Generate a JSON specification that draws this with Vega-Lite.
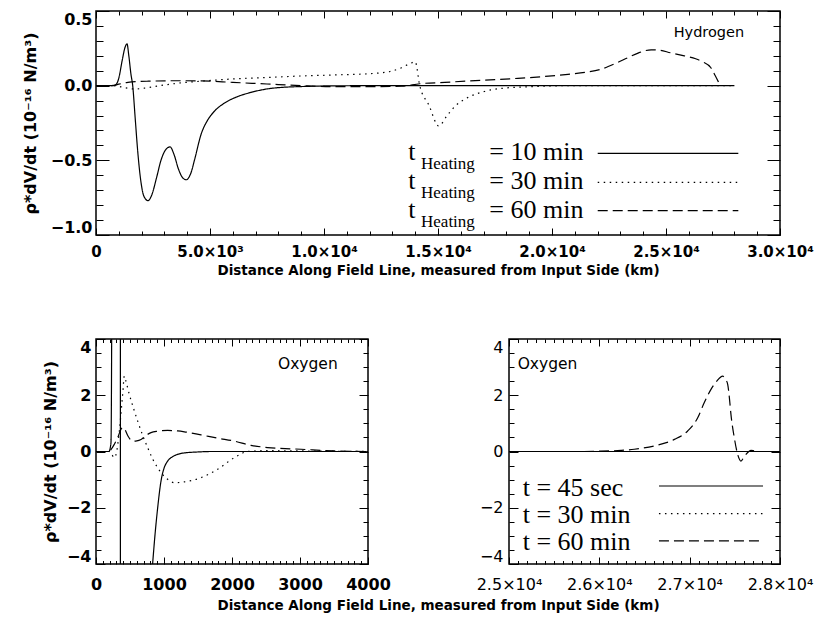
{
  "$schema": "https://vega.github.io/schema/vega-lite/v6.json",
  "autosize": {"type": "pad"},
  "padding": {"left": 21, "top": 9, "right": 0, "bottom": 0},
  "background": "white",
  "bounds": "flush",
  "spacing": 104,
  "resolve": {"scale": {"strokeDash": "independent"}},
  "config": {
    "view": {"stroke": "black", "strokeWidth": 1.5},
    "axis": {"domain": false, "grid": false, "labelColor": "black", "titleColor": "black", "tickColor": "black", "tickWidth": 1, "labelFlush": false, "labelOverlap": false, "labelBound": false, "labelFont": "DejaVu Sans", "titleFont": "DejaVu Sans"}
  },
  "datasets": {
    "hydrogen": [
      {"series": "10 min", "x": 0, "y": 0}, {"series": "10 min", "x": 600, "y": 0}, {"series": "10 min", "x": 850, "y": 0.005}, {"series": "10 min", "x": 1000, "y": 0.05}, {"series": "10 min", "x": 1150, "y": 0.17}, {"series": "10 min", "x": 1280, "y": 0.26}, {"series": "10 min", "x": 1360, "y": 0.28}, {"series": "10 min", "x": 1440, "y": 0.2}, {"series": "10 min", "x": 1530, "y": 0.08}, {"series": "10 min", "x": 1610, "y": 0}, {"series": "10 min", "x": 1720, "y": -0.22}, {"series": "10 min", "x": 1830, "y": -0.44}, {"series": "10 min", "x": 1950, "y": -0.62}, {"series": "10 min", "x": 2100, "y": -0.74}, {"series": "10 min", "x": 2280, "y": -0.77}, {"series": "10 min", "x": 2450, "y": -0.73}, {"series": "10 min", "x": 2650, "y": -0.62}, {"series": "10 min", "x": 2850, "y": -0.5}, {"series": "10 min", "x": 3050, "y": -0.43}, {"series": "10 min", "x": 3250, "y": -0.41}, {"series": "10 min", "x": 3420, "y": -0.46}, {"series": "10 min", "x": 3620, "y": -0.56}, {"series": "10 min", "x": 3820, "y": -0.62}, {"series": "10 min", "x": 3960, "y": -0.63}, {"series": "10 min", "x": 4150, "y": -0.59}, {"series": "10 min", "x": 4350, "y": -0.48}, {"series": "10 min", "x": 4600, "y": -0.33}, {"series": "10 min", "x": 4900, "y": -0.23}, {"series": "10 min", "x": 5200, "y": -0.17}, {"series": "10 min", "x": 5600, "y": -0.12}, {"series": "10 min", "x": 6100, "y": -0.08}, {"series": "10 min", "x": 6800, "y": -0.045}, {"series": "10 min", "x": 7500, "y": -0.022}, {"series": "10 min", "x": 8300, "y": -0.01}, {"series": "10 min", "x": 9000, "y": -0.006}, {"series": "10 min", "x": 10000, "y": -0.002}, {"series": "10 min", "x": 12000, "y": 0}, {"series": "10 min", "x": 20000, "y": 0}, {"series": "10 min", "x": 28000, "y": 0},
      {"series": "30 min", "x": 0, "y": 0}, {"series": "30 min", "x": 700, "y": 0}, {"series": "30 min", "x": 1000, "y": -0.005}, {"series": "30 min", "x": 1300, "y": -0.015}, {"series": "30 min", "x": 1700, "y": -0.022}, {"series": "30 min", "x": 2200, "y": -0.015}, {"series": "30 min", "x": 2800, "y": 0}, {"series": "30 min", "x": 3500, "y": 0.015}, {"series": "30 min", "x": 4600, "y": 0.03}, {"series": "30 min", "x": 6000, "y": 0.045}, {"series": "30 min", "x": 7500, "y": 0.055}, {"series": "30 min", "x": 9000, "y": 0.065}, {"series": "30 min", "x": 10500, "y": 0.072}, {"series": "30 min", "x": 12000, "y": 0.08}, {"series": "30 min", "x": 12900, "y": 0.095}, {"series": "30 min", "x": 13400, "y": 0.12}, {"series": "30 min", "x": 13800, "y": 0.15}, {"series": "30 min", "x": 14000, "y": 0.16}, {"series": "30 min", "x": 14200, "y": 0}, {"series": "30 min", "x": 14600, "y": -0.13}, {"series": "30 min", "x": 15030, "y": -0.27}, {"series": "30 min", "x": 15400, "y": -0.2}, {"series": "30 min", "x": 15800, "y": -0.13}, {"series": "30 min", "x": 16300, "y": -0.08}, {"series": "30 min", "x": 17000, "y": -0.04}, {"series": "30 min", "x": 17800, "y": -0.018}, {"series": "30 min", "x": 19200, "y": -0.006}, {"series": "30 min", "x": 21000, "y": 0}, {"series": "30 min", "x": 28000, "y": 0},
      {"series": "60 min", "x": 0, "y": 0}, {"series": "60 min", "x": 700, "y": 0}, {"series": "60 min", "x": 1000, "y": 0.01}, {"series": "60 min", "x": 1400, "y": 0.022}, {"series": "60 min", "x": 2300, "y": 0.03}, {"series": "60 min", "x": 3500, "y": 0.033}, {"series": "60 min", "x": 4600, "y": 0.032}, {"series": "60 min", "x": 6000, "y": 0.022}, {"series": "60 min", "x": 7500, "y": 0.011}, {"series": "60 min", "x": 9000, "y": 0}, {"series": "60 min", "x": 10500, "y": -0.007}, {"series": "60 min", "x": 12000, "y": -0.007}, {"series": "60 min", "x": 13400, "y": -0.004}, {"series": "60 min", "x": 14200, "y": 0.013}, {"series": "60 min", "x": 15300, "y": 0.022}, {"series": "60 min", "x": 16300, "y": 0.031}, {"series": "60 min", "x": 17500, "y": 0.04}, {"series": "60 min", "x": 18500, "y": 0.049}, {"series": "60 min", "x": 19700, "y": 0.062}, {"series": "60 min", "x": 20700, "y": 0.076}, {"series": "60 min", "x": 21500, "y": 0.09}, {"series": "60 min", "x": 22150, "y": 0.11}, {"series": "60 min", "x": 22800, "y": 0.15}, {"series": "60 min", "x": 23320, "y": 0.187}, {"series": "60 min", "x": 23800, "y": 0.22}, {"series": "60 min", "x": 24350, "y": 0.24}, {"series": "60 min", "x": 24700, "y": 0.238}, {"series": "60 min", "x": 25200, "y": 0.22}, {"series": "60 min", "x": 25800, "y": 0.2}, {"series": "60 min", "x": 26300, "y": 0.18}, {"series": "60 min", "x": 26600, "y": 0.16}, {"series": "60 min", "x": 26970, "y": 0.12}, {"series": "60 min", "x": 27150, "y": 0.07}, {"series": "60 min", "x": 27300, "y": 0.025}
    ],
    "oxygenNear": [
      {"series": "45 sec", "x": 0, "y": 0}, {"series": "45 sec", "x": 190, "y": 0}, {"series": "45 sec", "x": 220, "y": 0.3}, {"series": "45 sec", "x": 231, "y": 4.5}, {"series": "45 sec", "x": 240, "y": 20}, {"series": "45 sec", "x": 300, "y": 40}, {"series": "45 sec", "x": 357, "y": 40}, {"series": "45 sec", "x": 360, "y": -40}, {"series": "45 sec", "x": 500, "y": -30}, {"series": "45 sec", "x": 700, "y": -10}, {"series": "45 sec", "x": 800, "y": -5}, {"series": "45 sec", "x": 834, "y": -3.95}, {"series": "45 sec", "x": 870, "y": -2.9}, {"series": "45 sec", "x": 907, "y": -2.0}, {"series": "45 sec", "x": 956, "y": -1.05}, {"series": "45 sec", "x": 1000, "y": -0.6}, {"series": "45 sec", "x": 1054, "y": -0.34}, {"series": "45 sec", "x": 1130, "y": -0.18}, {"series": "45 sec", "x": 1201, "y": -0.1}, {"series": "45 sec", "x": 1300, "y": -0.05}, {"series": "45 sec", "x": 1470, "y": -0.02}, {"series": "45 sec", "x": 1700, "y": 0}, {"series": "45 sec", "x": 4000, "y": 0},
      {"series": "30 min", "x": 0, "y": 0}, {"series": "30 min", "x": 190, "y": 0}, {"series": "30 min", "x": 230, "y": -0.1}, {"series": "30 min", "x": 270, "y": -0.22}, {"series": "30 min", "x": 300, "y": -0.05}, {"series": "30 min", "x": 343, "y": 0.73}, {"series": "30 min", "x": 392, "y": 2.03}, {"series": "30 min", "x": 417, "y": 2.68}, {"series": "30 min", "x": 440, "y": 2.5}, {"series": "30 min", "x": 490, "y": 2.03}, {"series": "30 min", "x": 550, "y": 1.55}, {"series": "30 min", "x": 613, "y": 1.08}, {"series": "30 min", "x": 690, "y": 0.55}, {"series": "30 min", "x": 760, "y": 0.14}, {"series": "30 min", "x": 830, "y": -0.25}, {"series": "30 min", "x": 907, "y": -0.58}, {"series": "30 min", "x": 980, "y": -0.82}, {"series": "30 min", "x": 1054, "y": -0.99}, {"series": "30 min", "x": 1152, "y": -1.11}, {"series": "30 min", "x": 1300, "y": -1.08}, {"series": "30 min", "x": 1544, "y": -0.93}, {"series": "30 min", "x": 1789, "y": -0.63}, {"series": "30 min", "x": 2034, "y": -0.22}, {"series": "30 min", "x": 2230, "y": 0}, {"series": "30 min", "x": 2500, "y": 0.03}, {"series": "30 min", "x": 3000, "y": 0.02}, {"series": "30 min", "x": 3500, "y": 0.01}, {"series": "30 min", "x": 4000, "y": 0},
      {"series": "60 min", "x": 0, "y": 0}, {"series": "60 min", "x": 190, "y": 0}, {"series": "60 min", "x": 230, "y": 0.1}, {"series": "60 min", "x": 270, "y": 0.26}, {"series": "60 min", "x": 320, "y": 0.5}, {"series": "60 min", "x": 370, "y": 0.8}, {"series": "60 min", "x": 392, "y": 0.85}, {"series": "60 min", "x": 420, "y": 0.8}, {"series": "60 min", "x": 470, "y": 0.55}, {"series": "60 min", "x": 539, "y": 0.37}, {"series": "60 min", "x": 600, "y": 0.38}, {"series": "60 min", "x": 662, "y": 0.43}, {"series": "60 min", "x": 740, "y": 0.58}, {"series": "60 min", "x": 809, "y": 0.67}, {"series": "60 min", "x": 900, "y": 0.72}, {"series": "60 min", "x": 1054, "y": 0.75}, {"series": "60 min", "x": 1200, "y": 0.73}, {"series": "60 min", "x": 1299, "y": 0.7}, {"series": "60 min", "x": 1544, "y": 0.59}, {"series": "60 min", "x": 1800, "y": 0.47}, {"series": "60 min", "x": 2034, "y": 0.37}, {"series": "60 min", "x": 2279, "y": 0.22}, {"series": "60 min", "x": 2524, "y": 0.14}, {"series": "60 min", "x": 3015, "y": 0.08}, {"series": "60 min", "x": 3500, "y": 0.02}, {"series": "60 min", "x": 4000, "y": 0}
    ],
    "oxygenFar": [
      {"series": "45 sec", "x": 25000, "y": 0}, {"series": "45 sec", "x": 28000, "y": 0},
      {"series": "30 min", "x": 25000, "y": 0}, {"series": "30 min", "x": 28000, "y": 0},
      {"series": "60 min", "x": 25000, "y": 0}, {"series": "60 min", "x": 25800, "y": 0}, {"series": "60 min", "x": 26000, "y": 0.01}, {"series": "60 min", "x": 26240, "y": 0.04}, {"series": "60 min", "x": 26387, "y": 0.08}, {"series": "60 min", "x": 26609, "y": 0.2}, {"series": "60 min", "x": 26830, "y": 0.43}, {"series": "60 min", "x": 26978, "y": 0.73}, {"series": "60 min", "x": 27089, "y": 1.2}, {"series": "60 min", "x": 27162, "y": 1.74}, {"series": "60 min", "x": 27236, "y": 2.21}, {"series": "60 min", "x": 27300, "y": 2.5}, {"series": "60 min", "x": 27365, "y": 2.68}, {"series": "60 min", "x": 27400, "y": 2.55}, {"series": "60 min", "x": 27421, "y": 2.39}, {"series": "60 min", "x": 27440, "y": 1.9}, {"series": "60 min", "x": 27457, "y": 1.32}, {"series": "60 min", "x": 27494, "y": 0.49}, {"series": "60 min", "x": 27531, "y": -0.1}, {"series": "60 min", "x": 27568, "y": -0.34}, {"series": "60 min", "x": 27600, "y": -0.2}, {"series": "60 min", "x": 27624, "y": -0.1}, {"series": "60 min", "x": 27679, "y": 0.04}, {"series": "60 min", "x": 27716, "y": 0.02}, {"series": "60 min", "x": 27760, "y": 0}, {"series": "60 min", "x": 28000, "y": 0}
    ],
    "hLegend": [
      {"series": "10 min", "label": "= 10 min", "y": -0.453},
      {"series": "30 min", "label": "= 30 min", "y": -0.647},
      {"series": "60 min", "label": "= 60 min", "y": -0.837}
    ],
    "oLegend": [
      {"series": "45 sec", "label": "t = 45 sec", "y": -1.227},
      {"series": "30 min", "label": "t = 30 min", "y": -2.21},
      {"series": "60 min", "label": "t = 60 min", "y": -3.18}
    ]
  },
  "vconcat": [
    {
      "width": 684, "height": 224,
      "data": {"name": "hydrogen"},
      "resolve": {"axis": {"x": "independent", "y": "independent"}},
      "layer": [
        {
          "mark": {"type": "line", "interpolate": "monotone", "strokeWidth": 1.2, "color": "black", "clip": true},
          "encoding": {
            "x": {"field": "x", "type": "quantitative", "scale": {"domain": [0, 30000], "nice": false, "zero": false},
              "axis": {"orient": "bottom", "values": [0, 5000, 10000, 15000, 20000, 25000, 30000], "ticks": false, "labelExpr": "datum.value == 0 ? '0' : datum.value < 10000 ? format(datum.value/1000, '.1f') + '×10³' : format(datum.value/10000, '.1f') + '×10⁴'", "labelFontSize": 15, "labelFontWeight": "bold", "labelPadding": 9, "title": "Distance Along Field Line, measured from Input Side (km)", "titleFontSize": 13.5, "titleFontWeight": "bold", "titlePadding": 4}},
            "y": {"field": "y", "type": "quantitative", "scale": {"domain": [-1, 0.5], "nice": false, "zero": false},
              "axis": {"orient": "left", "values": [-1, -0.5, 0, 0.5], "ticks": false, "format": ".1f", "labelFontSize": 16, "labelFontWeight": "bold", "labelPadding": 4, "labelFlush": true, "title": "ρ*dV/dt (10⁻¹⁶ N/m³)", "titleFontSize": 16, "titleFontWeight": "bold", "titlePadding": 12}},
            "strokeDash": {"field": "series", "type": "nominal", "scale": {"domain": ["10 min", "30 min", "60 min"], "range": [[1, 0], [1.5, 4.5], [10, 5]]}, "legend": null}
          }
        },
        {
          "data": {"values": [{}]},
          "mark": {"type": "point", "opacity": 0},
          "encoding": {
            "x": {"datum": 0, "type": "quantitative", "scale": {"domain": [0, 30000], "nice": false, "zero": false}, "axis": {"orient": "bottom", "values": [0, 5000, 10000, 15000, 20000, 25000, 30000], "labels": false, "title": null, "tickSize": -7}},
            "y": {"datum": 0, "type": "quantitative", "scale": {"domain": [-1, 0.5], "nice": false, "zero": false}, "axis": {"orient": "left", "values": [-1, -0.5, 0, 0.5], "labels": false, "title": null, "tickSize": -13}}
          }
        },
        {
          "data": {"values": [{}]},
          "mark": {"type": "point", "opacity": 0},
          "encoding": {
            "x": {"datum": 0, "type": "quantitative", "scale": {"domain": [0, 30000], "nice": false, "zero": false}, "axis": {"orient": "bottom", "values": [1000, 2000, 3000, 4000, 6000, 7000, 8000, 9000, 11000, 12000, 13000, 14000, 16000, 17000, 18000, 19000, 21000, 22000, 23000, 24000, 26000, 27000, 28000, 29000], "labels": false, "title": null, "tickSize": -4}},
            "y": {"datum": 0, "type": "quantitative", "scale": {"domain": [-1, 0.5], "nice": false, "zero": false}, "axis": {"orient": "left", "values": [-0.9, -0.8, -0.7, -0.6, -0.4, -0.3, -0.2, -0.1, 0.1, 0.2, 0.3, 0.4], "labels": false, "title": null, "tickSize": -7}}
          }
        },
        {
          "data": {"values": [{}]},
          "mark": {"type": "point", "opacity": 0},
          "encoding": {
            "x": {"datum": 0, "type": "quantitative", "scale": {"domain": [0, 30000], "nice": false, "zero": false}, "axis": {"orient": "top", "values": [0, 5000, 10000, 15000, 20000, 25000, 30000], "labels": false, "title": null, "tickSize": -7}},
            "y": {"datum": 0, "type": "quantitative", "scale": {"domain": [-1, 0.5], "nice": false, "zero": false}, "axis": {"orient": "right", "values": [-1, -0.5, 0, 0.5], "labels": false, "title": null, "tickSize": -13}}
          }
        },
        {
          "data": {"values": [{}]},
          "mark": {"type": "point", "opacity": 0},
          "encoding": {
            "x": {"datum": 0, "type": "quantitative", "scale": {"domain": [0, 30000], "nice": false, "zero": false}, "axis": {"orient": "top", "values": [1000, 2000, 3000, 4000, 6000, 7000, 8000, 9000, 11000, 12000, 13000, 14000, 16000, 17000, 18000, 19000, 21000, 22000, 23000, 24000, 26000, 27000, 28000, 29000], "labels": false, "title": null, "tickSize": -4}},
            "y": {"datum": 0, "type": "quantitative", "scale": {"domain": [-1, 0.5], "nice": false, "zero": false}, "axis": {"orient": "right", "values": [-0.9, -0.8, -0.7, -0.6, -0.4, -0.3, -0.2, -0.1, 0.1, 0.2, 0.3, 0.4], "labels": false, "title": null, "tickSize": -7}}
          }
        },
        {
          "data": {"values": [{}]},
          "mark": {"type": "text", "text": "Hydrogen", "font": "DejaVu Sans", "fontSize": 14.5, "align": "left", "baseline": "alphabetic", "color": "black"},
          "encoding": {
            "x": {"datum": 25336, "type": "quantitative", "scale": {"domain": [0, 30000], "nice": false, "zero": false}, "axis": null},
            "y": {"datum": 0.326, "type": "quantitative", "scale": {"domain": [-1, 0.5], "nice": false, "zero": false}, "axis": null}
          }
        },
        {
          "data": {"name": "hLegend"},
          "mark": {"type": "text", "text": "t", "font": "Liberation Serif", "fontSize": 26, "align": "left", "baseline": "alphabetic", "dy": 7, "color": "black"},
          "encoding": {
            "x": {"datum": 13697, "type": "quantitative", "scale": {"domain": [0, 30000], "nice": false, "zero": false}, "axis": null},
            "y": {"field": "y", "type": "quantitative", "scale": {"domain": [-1, 0.5], "nice": false, "zero": false}, "axis": null}
          }
        },
        {
          "data": {"name": "hLegend"},
          "mark": {"type": "text", "text": "Heating", "font": "Liberation Serif", "fontSize": 17, "align": "left", "baseline": "alphabetic", "dy": 16, "color": "black"},
          "encoding": {
            "x": {"datum": 14255, "type": "quantitative", "scale": {"domain": [0, 30000], "nice": false, "zero": false}, "axis": null},
            "y": {"field": "y", "type": "quantitative", "scale": {"domain": [-1, 0.5], "nice": false, "zero": false}, "axis": null}
          }
        },
        {
          "data": {"name": "hLegend"},
          "mark": {"type": "text", "font": "Liberation Serif", "fontSize": 26, "align": "left", "baseline": "alphabetic", "dy": 7, "color": "black"},
          "encoding": {
            "x": {"datum": 17250, "type": "quantitative", "scale": {"domain": [0, 30000], "nice": false, "zero": false}, "axis": null},
            "y": {"field": "y", "type": "quantitative", "scale": {"domain": [-1, 0.5], "nice": false, "zero": false}, "axis": null},
            "text": {"field": "label"}
          }
        },
        {
          "data": {"name": "hLegend"},
          "mark": {"type": "rule", "strokeWidth": 1.2, "color": "black"},
          "encoding": {
            "x": {"datum": 22005, "type": "quantitative", "scale": {"domain": [0, 30000], "nice": false, "zero": false}, "axis": null},
            "x2": {"datum": 28172},
            "y": {"field": "y", "type": "quantitative", "scale": {"domain": [-1, 0.5], "nice": false, "zero": false}, "axis": null},
            "strokeDash": {"field": "series", "type": "nominal", "scale": {"domain": ["10 min", "30 min", "60 min"], "range": [[1, 0], [1.5, 4.5], [8, 5]]}, "legend": null}
          }
        }
      ]
    },
    {
      "bounds": "flush",
      "spacing": 141,
      "resolve": {"scale": {"strokeDash": "independent"}},
      "hconcat": [
        {
          "width": 272, "height": 225,
          "data": {"name": "oxygenNear"},
          "resolve": {"axis": {"x": "independent", "y": "independent"}},
          "layer": [
            {
              "mark": {"type": "line", "interpolate": "monotone", "strokeWidth": 1.2, "color": "black", "clip": true},
              "encoding": {
                "x": {"field": "x", "type": "quantitative", "scale": {"domain": [0, 4000], "nice": false, "zero": false},
                  "axis": {"orient": "bottom", "values": [0, 1000, 2000, 3000, 4000], "ticks": false, "format": "d", "labelFontSize": 16, "labelFontWeight": "bold", "labelPadding": 12, "title": "Distance Along Field Line, measured from Input Side (km)", "titleFontSize": 13.5, "titleFontWeight": "bold", "titlePadding": 6, "titleX": 342, "titleAlign": "center", "titleAnchor": null}},
                "y": {"field": "y", "type": "quantitative", "scale": {"domain": [-4, 4], "nice": false, "zero": false},
                  "axis": {"orient": "left", "values": [-4, -2, 0, 2, 4], "ticks": false, "format": "d", "labelFontSize": 16, "labelFontWeight": "bold", "labelPadding": 5, "labelFlush": true, "title": "ρ*dV/dt (10⁻¹⁶ N/m³)", "titleFontSize": 16, "titleFontWeight": "bold", "titlePadding": 8}},
                "strokeDash": {"field": "series", "type": "nominal", "scale": {"domain": ["45 sec", "30 min", "60 min"], "range": [[1, 0], [1.5, 4.5], [10, 5]]}, "legend": null}
              }
            },
            {
              "data": {"values": [{}]},
              "mark": {"type": "point", "opacity": 0},
              "encoding": {
                "x": {"datum": 0, "type": "quantitative", "scale": {"domain": [0, 4000], "nice": false, "zero": false}, "axis": {"orient": "bottom", "values": [0, 1000, 2000, 3000, 4000], "labels": false, "title": null, "tickSize": -7}},
                "y": {"datum": 0, "type": "quantitative", "scale": {"domain": [-4, 4], "nice": false, "zero": false}, "axis": {"orient": "left", "values": [-4, -2, 0, 2, 4], "labels": false, "title": null, "tickSize": -9}}
              }
            },
            {
              "data": {"values": [{}]},
              "mark": {"type": "point", "opacity": 0},
              "encoding": {
                "x": {"datum": 0, "type": "quantitative", "scale": {"domain": [0, 4000], "nice": false, "zero": false}, "axis": {"orient": "bottom", "values": [100, 200, 300, 400, 500, 600, 700, 800, 900, 1100, 1200, 1300, 1400, 1500, 1600, 1700, 1800, 1900, 2100, 2200, 2300, 2400, 2500, 2600, 2700, 2800, 2900, 3100, 3200, 3300, 3400, 3500, 3600, 3700, 3800, 3900], "labels": false, "title": null, "tickSize": -3.5}},
                "y": {"datum": 0, "type": "quantitative", "scale": {"domain": [-4, 4], "nice": false, "zero": false}, "axis": {"orient": "left", "values": [-3.5, -3, -2.5, -1.5, -1, -0.5, 0.5, 1, 1.5, 2.5, 3, 3.5], "labels": false, "title": null, "tickSize": -5}}
              }
            },
            {
              "data": {"values": [{}]},
              "mark": {"type": "point", "opacity": 0},
              "encoding": {
                "x": {"datum": 0, "type": "quantitative", "scale": {"domain": [0, 4000], "nice": false, "zero": false}, "axis": {"orient": "top", "values": [0, 1000, 2000, 3000, 4000], "labels": false, "title": null, "tickSize": -7}},
                "y": {"datum": 0, "type": "quantitative", "scale": {"domain": [-4, 4], "nice": false, "zero": false}, "axis": {"orient": "right", "values": [-4, -2, 0, 2, 4], "labels": false, "title": null, "tickSize": -9}}
              }
            },
            {
              "data": {"values": [{}]},
              "mark": {"type": "point", "opacity": 0},
              "encoding": {
                "x": {"datum": 0, "type": "quantitative", "scale": {"domain": [0, 4000], "nice": false, "zero": false}, "axis": {"orient": "top", "values": [100, 200, 300, 400, 500, 600, 700, 800, 900, 1100, 1200, 1300, 1400, 1500, 1600, 1700, 1800, 1900, 2100, 2200, 2300, 2400, 2500, 2600, 2700, 2800, 2900, 3100, 3200, 3300, 3400, 3500, 3600, 3700, 3800, 3900], "labels": false, "title": null, "tickSize": -3.5}},
                "y": {"datum": 0, "type": "quantitative", "scale": {"domain": [-4, 4], "nice": false, "zero": false}, "axis": {"orient": "right", "values": [-3.5, -3, -2.5, -1.5, -1, -0.5, 0.5, 1, 1.5, 2.5, 3, 3.5], "labels": false, "title": null, "tickSize": -5}}
              }
            },
            {
              "data": {"values": [{}]},
              "mark": {"type": "text", "text": "Oxygen", "font": "DejaVu Sans", "fontSize": 15.5, "align": "left", "baseline": "alphabetic", "color": "black"},
              "encoding": {
                "x": {"datum": 2676, "type": "quantitative", "scale": {"domain": [0, 4000], "nice": false, "zero": false}, "axis": null},
                "y": {"datum": 2.92, "type": "quantitative", "scale": {"domain": [-4, 4], "nice": false, "zero": false}, "axis": null}
              }
            }
          ]
        },
        {
          "width": 271, "height": 225,
          "data": {"name": "oxygenFar"},
          "resolve": {"axis": {"x": "independent", "y": "independent"}},
          "layer": [
            {
              "mark": {"type": "line", "interpolate": "monotone", "strokeWidth": 1.2, "color": "black", "clip": true},
              "encoding": {
                "x": {"field": "x", "type": "quantitative", "scale": {"domain": [25000, 28000], "nice": false, "zero": false},
                  "axis": {"orient": "bottom", "values": [25000, 26000, 27000, 28000], "ticks": false, "labelExpr": "format(datum.value/10000, '.1f') + '×10⁴'", "labelFontSize": 16, "labelPadding": 12, "title": null}},
                "y": {"field": "y", "type": "quantitative", "scale": {"domain": [-4, 4], "nice": false, "zero": false},
                  "axis": {"orient": "left", "values": [-4, -2, 0, 2, 4], "ticks": false, "format": "d", "labelFontSize": 16, "labelPadding": 6, "labelFlush": true, "title": null}},
                "strokeDash": {"field": "series", "type": "nominal", "scale": {"domain": ["45 sec", "30 min", "60 min"], "range": [[1, 0], [1.5, 4.5], [10, 5]]}, "legend": null}
              }
            },
            {
              "data": {"values": [{}]},
              "mark": {"type": "point", "opacity": 0},
              "encoding": {
                "x": {"datum": 25000, "type": "quantitative", "scale": {"domain": [25000, 28000], "nice": false, "zero": false}, "axis": {"orient": "bottom", "values": [25000, 26000, 27000, 28000], "labels": false, "title": null, "tickSize": -7}},
                "y": {"datum": 0, "type": "quantitative", "scale": {"domain": [-4, 4], "nice": false, "zero": false}, "axis": {"orient": "left", "values": [-4, -2, 0, 2, 4], "labels": false, "title": null, "tickSize": -9}}
              }
            },
            {
              "data": {"values": [{}]},
              "mark": {"type": "point", "opacity": 0},
              "encoding": {
                "x": {"datum": 25000, "type": "quantitative", "scale": {"domain": [25000, 28000], "nice": false, "zero": false}, "axis": {"orient": "bottom", "values": [25100, 25200, 25300, 25400, 25500, 25600, 25700, 25800, 25900, 26100, 26200, 26300, 26400, 26500, 26600, 26700, 26800, 26900, 27100, 27200, 27300, 27400, 27500, 27600, 27700, 27800, 27900], "labels": false, "title": null, "tickSize": -3.5}},
                "y": {"datum": 0, "type": "quantitative", "scale": {"domain": [-4, 4], "nice": false, "zero": false}, "axis": {"orient": "left", "values": [-3.5, -3, -2.5, -1.5, -1, -0.5, 0.5, 1, 1.5, 2.5, 3, 3.5], "labels": false, "title": null, "tickSize": -5}}
              }
            },
            {
              "data": {"values": [{}]},
              "mark": {"type": "point", "opacity": 0},
              "encoding": {
                "x": {"datum": 25000, "type": "quantitative", "scale": {"domain": [25000, 28000], "nice": false, "zero": false}, "axis": {"orient": "top", "values": [25000, 26000, 27000, 28000], "labels": false, "title": null, "tickSize": -7}},
                "y": {"datum": 0, "type": "quantitative", "scale": {"domain": [-4, 4], "nice": false, "zero": false}, "axis": {"orient": "right", "values": [-4, -2, 0, 2, 4], "labels": false, "title": null, "tickSize": -9}}
              }
            },
            {
              "data": {"values": [{}]},
              "mark": {"type": "point", "opacity": 0},
              "encoding": {
                "x": {"datum": 25000, "type": "quantitative", "scale": {"domain": [25000, 28000], "nice": false, "zero": false}, "axis": {"orient": "top", "values": [25100, 25200, 25300, 25400, 25500, 25600, 25700, 25800, 25900, 26100, 26200, 26300, 26400, 26500, 26600, 26700, 26800, 26900, 27100, 27200, 27300, 27400, 27500, 27600, 27700, 27800, 27900], "labels": false, "title": null, "tickSize": -3.5}},
                "y": {"datum": 0, "type": "quantitative", "scale": {"domain": [-4, 4], "nice": false, "zero": false}, "axis": {"orient": "right", "values": [-3.5, -3, -2.5, -1.5, -1, -0.5, 0.5, 1, 1.5, 2.5, 3, 3.5], "labels": false, "title": null, "tickSize": -5}}
              }
            },
            {
              "data": {"values": [{}]},
              "mark": {"type": "text", "text": "Oxygen", "font": "DejaVu Sans", "fontSize": 15.5, "align": "left", "baseline": "alphabetic", "color": "black"},
              "encoding": {
                "x": {"datum": 25096, "type": "quantitative", "scale": {"domain": [25000, 28000], "nice": false, "zero": false}, "axis": null},
                "y": {"datum": 2.92, "type": "quantitative", "scale": {"domain": [-4, 4], "nice": false, "zero": false}, "axis": null}
              }
            },
            {
              "data": {"name": "oLegend"},
              "mark": {"type": "text", "font": "Liberation Serif", "fontSize": 26, "align": "left", "baseline": "alphabetic", "dy": 9.5, "color": "black"},
              "encoding": {
                "x": {"datum": 25152, "type": "quantitative", "scale": {"domain": [25000, 28000], "nice": false, "zero": false}, "axis": null},
                "y": {"field": "y", "type": "quantitative", "scale": {"domain": [-4, 4], "nice": false, "zero": false}, "axis": null},
                "text": {"field": "label"}
              }
            },
            {
              "data": {"name": "oLegend"},
              "mark": {"type": "rule", "strokeWidth": 1.2, "color": "black"},
              "encoding": {
                "x": {"datum": 26660, "type": "quantitative", "scale": {"domain": [25000, 28000], "nice": false, "zero": false}, "axis": null},
                "x2": {"datum": 27812},
                "y": {"field": "y", "type": "quantitative", "scale": {"domain": [-4, 4], "nice": false, "zero": false}, "axis": null},
                "strokeDash": {"field": "series", "type": "nominal", "scale": {"domain": ["45 sec", "30 min", "60 min"], "range": [[1, 0], [1.5, 4.5], [8, 5]]}, "legend": null}
              }
            }
          ]
        }
      ]
    }
  ]
}
